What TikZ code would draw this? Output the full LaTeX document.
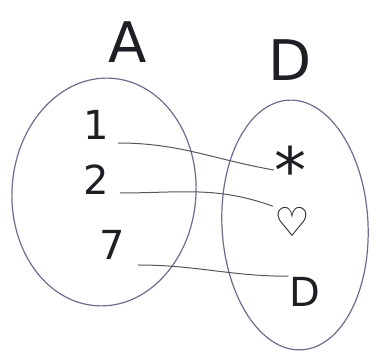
\documentclass[tikz,border=0pt]{standalone}
\usepackage{fontspec}
\setmainfont{DejaVu Sans}
\usepackage{tikz}
\usetikzlibrary{positioning,shapes.geometric}
\definecolor{setline}{HTML}{6E6C8C}
\definecolor{mapline}{HTML}{555560}
\definecolor{ink}{HTML}{1E1E24}

\begin{document}
\begin{tikzpicture}[
    x=1pt, y=-1pt,
    setbox/.style={draw=setline, line width=1.2pt, ellipse, inner sep=0pt},
    elem/.style={text=ink, font=\fontsize{40}{40}\selectfont, inner sep=1pt},
    setname/.style={text=ink, font=\fontsize{56}{56}\selectfont},
    maps/.style={draw=mapline, line width=1pt}
]
    \useasboundingbox (0,0) rectangle (376,355);
    % the two sets
    \node[setbox, minimum width=184pt, minimum height=228pt, rotate=-4] (setA) at (104,192) {};
    \node[setbox, minimum width=146pt, minimum height=250pt, rotate=3] (setD) at (295,225) {};
    \node[setname] (nameA) at (128,42) {A};
    \node[setname] (nameD) at (290,60) {D};
    % elements of A
    \node[elem] (a1) at (96,125) {1};
    \node[elem] (a2) at (96,180) {2};
    \node[elem] (a7) at (112,245) {7};
    % elements of D
    \node[elem, font=\fontsize{64}{64}\selectfont, inner sep=0pt] (dstar) at (290,170) {*};
    \node[elem] (dheart) at (292,222) {♡};
    \node[elem] (dD) at (305,292) {D};
    % the mapping
    \draw[maps] (a1.east) ++(8,18) coordinate (s1) to[out=0,in=170] (dstar.west);
    \draw[maps] (a2.east) ++(10,13) coordinate (s2) to[out=0,in=160] (dheart.north west);
    \draw[maps] (a7.east) ++(12,20) coordinate (s7) to[out=0,in=180] (dD.north west);
\end{tikzpicture}
\end{document}
